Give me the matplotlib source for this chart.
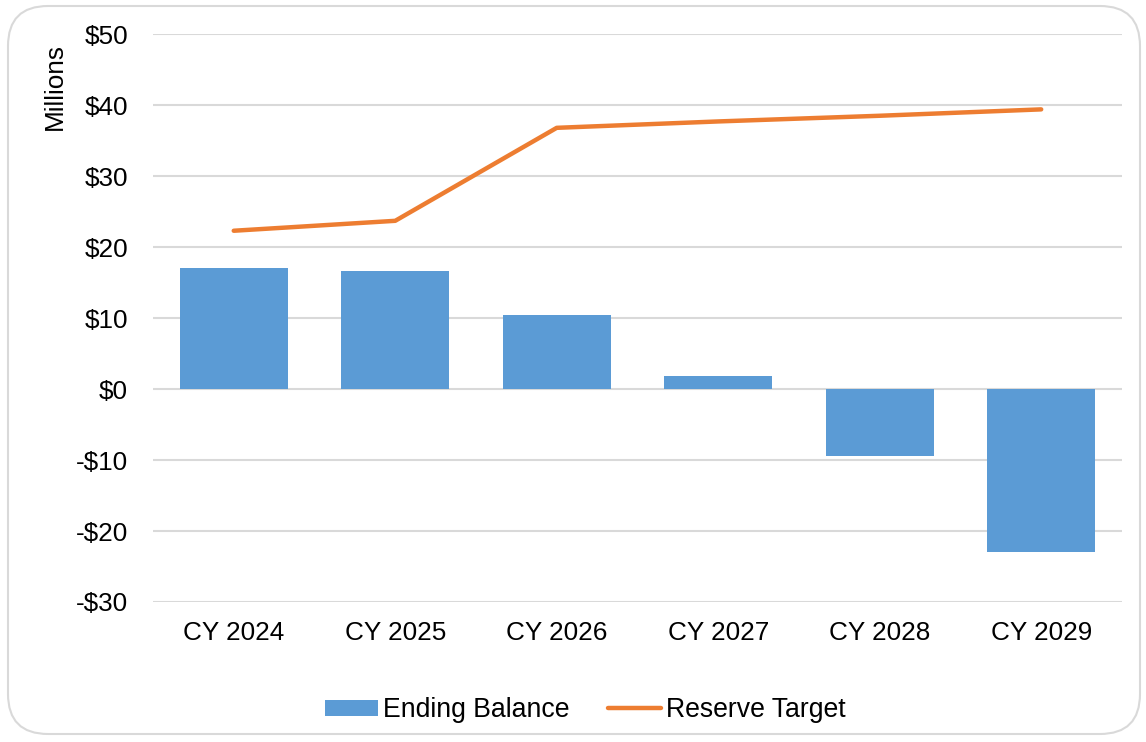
import matplotlib
matplotlib.use("Agg")
import matplotlib.pyplot as plt
from matplotlib.patches import FancyBboxPatch
from matplotlib.ticker import FuncFormatter
import numpy as np

categories = ["CY 2024", "CY 2025", "CY 2026", "CY 2027", "CY 2028", "CY 2029"]
ending_balance = [17.0, 16.6, 10.4, 1.9, -9.5, -23.0]
reserve_target = [22.3, 23.7, 36.8, 37.7, 38.5, 39.4]
y_ticks = [-30, -20, -10, 0, 10, 20, 30, 40, 50]

plt.rcParams['font.family'] = ['Liberation Sans', 'DejaVu Sans']

fig = plt.figure(figsize=(11.46, 7.42), dpi=100)
ax = fig.add_axes([0.1335, 0.1887, 0.8455, 0.7653])

x = np.arange(len(categories))
bars = ax.bar(x, ending_balance, width=0.67, color="#5b9bd5", label="Ending Balance", zorder=2)
line, = ax.plot(x, reserve_target, color="#ed7d31", linewidth=3.2, solid_capstyle="round",
                label="Reserve Target", zorder=3)

ax.set_xlim(-0.5, len(categories) - 0.5)
ax.set_ylim(-30, 50)
ax.set_yticks(y_ticks)
ax.yaxis.set_major_formatter(FuncFormatter(lambda v, p: f"-${abs(int(v))}" if v < 0 else f"${int(v)}"))
ax.set_xticks(x)
ax.set_xticklabels(categories)
ax.tick_params(axis='both', length=0, labelsize=18.8, colors="black")
ax.tick_params(axis='y', pad=18)
ax.tick_params(axis='x', pad=14)
ax.grid(axis='y', color="#d9d9d9", linewidth=1.5, zorder=0)
ax.set_axisbelow(True)
for s in ax.spines.values():
    s.set_visible(False)

fig.text(55 / 1146, 1 - 86 / 742, "Millions", rotation=90, ha="center", va="center", fontsize=18.8)

fig.legend(handles=[bars, line], labels=["Ending Balance", "Reserve Target"], loc="center",
           bbox_to_anchor=(0.511, 0.043), ncol=2, frameon=False, fontsize=19.2,
           handlelength=1.97, handletextpad=0.2, columnspacing=1.45, handleheight=0.55)

border = FancyBboxPatch((8 / 1146, 8 / 742), 1 - 14 / 1146, 1 - 14 / 742,
                        boxstyle="round,pad=0,rounding_size=0.035", transform=fig.transFigure,
                        facecolor="none", edgecolor="#d9d9d9", linewidth=1.5,
                        mutation_aspect=1146 / 742)
fig.patches.append(border)

fig.savefig("out.png", dpi=100)
